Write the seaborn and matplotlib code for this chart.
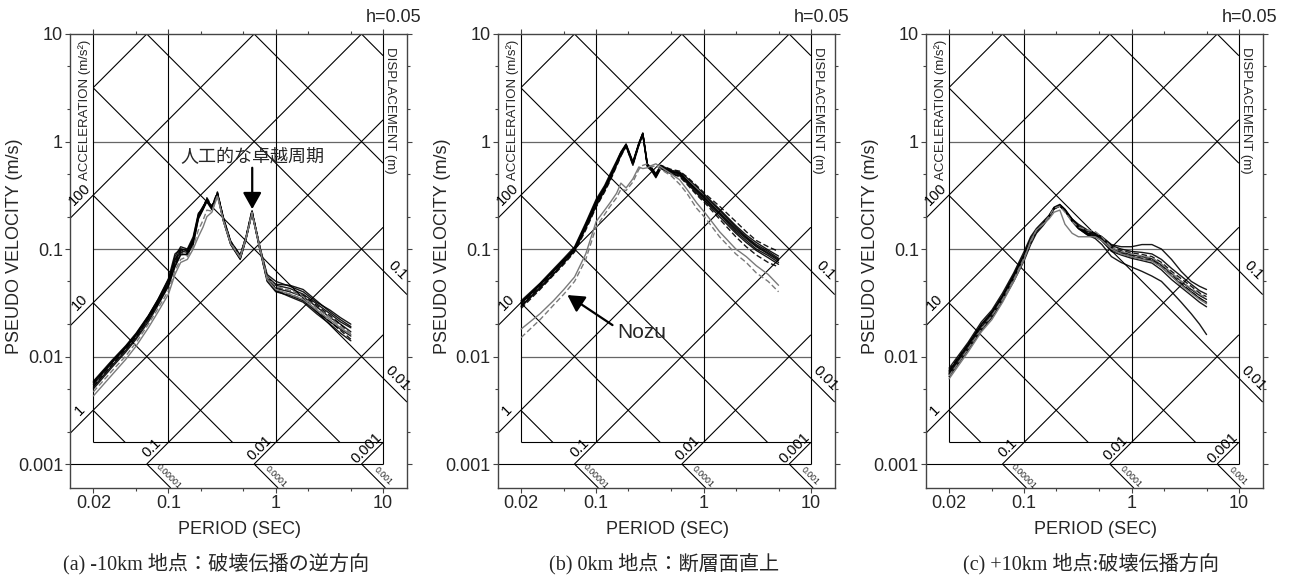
import numpy as np
import pandas as pd
import matplotlib
matplotlib.use("Agg")
import matplotlib.pyplot as plt
import seaborn as sns
from matplotlib.ticker import FixedLocator, NullFormatter, FixedFormatter

sns.set_theme(style="white")
plt.rcParams["font.family"] = ["Liberation Sans", "Noto Sans CJK JP"]
plt.rcParams["axes.unicode_minus"] = False

# ---------------- data ----------------
# Panel (a): -10 km
Ta = [0.02, 0.03, 0.04, 0.05, 0.065, 0.08, 0.1, 0.115, 0.13, 0.15, 0.17, 0.19, 0.21, 0.228, 0.254,
      0.286, 0.326, 0.38, 0.466, 0.53, 0.6, 0.716, 0.83, 1.0, 1.35, 1.8, 2.4, 3.2, 4.0, 5.0]
a_s1 = [0.0055, 0.0088, 0.012, 0.0158, 0.023, 0.032, 0.048, 0.075, 0.096, 0.093, 0.118, 0.205, 0.245, 0.29, 0.245,
        0.335, 0.19, 0.115, 0.085, 0.13, 0.222, 0.098, 0.053, 0.043, 0.040, 0.036, 0.029, 0.023, 0.020, 0.017]
a_s2 = [0.0059, 0.0093, 0.0126, 0.0165, 0.024, 0.034, 0.052, 0.08, 0.1, 0.098, 0.125, 0.21, 0.25, 0.28, 0.24,
        0.33, 0.185, 0.112, 0.082, 0.128, 0.218, 0.1, 0.056, 0.046, 0.043, 0.038, 0.031, 0.025, 0.021, 0.0185]
a_s3 = [0.0052, 0.0083, 0.0114, 0.015, 0.022, 0.031, 0.046, 0.07, 0.09, 0.088, 0.112, 0.195, 0.235, 0.275, 0.232,
        0.32, 0.18, 0.11, 0.08, 0.125, 0.215, 0.095, 0.05, 0.04, 0.037, 0.033, 0.026, 0.021, 0.018, 0.0155]
a_s4 = [0.0057, 0.009, 0.0122, 0.016, 0.0235, 0.033, 0.05, 0.085, 0.105, 0.1, 0.13, 0.215, 0.24, 0.285, 0.25,
        0.325, 0.195, 0.118, 0.088, 0.132, 0.225, 0.102, 0.058, 0.05, 0.045, 0.04, 0.032, 0.027, 0.023, 0.02]
a_s5 = [0.0058, 0.0091, 0.0124, 0.0162, 0.0238, 0.034, 0.053, 0.09, 0.1, 0.096, 0.122, 0.2, 0.242, 0.292, 0.243,
        0.33, 0.188, 0.116, 0.086, 0.131, 0.224, 0.099, 0.055, 0.047, 0.046, 0.042, 0.033, 0.026, 0.022, 0.019]
a_s6 = [0.005, 0.008, 0.011, 0.0145, 0.021, 0.03, 0.045, 0.068, 0.088, 0.09, 0.11, 0.19, 0.232, 0.282, 0.236,
        0.322, 0.182, 0.111, 0.081, 0.126, 0.216, 0.097, 0.052, 0.041, 0.036, 0.032, 0.025, 0.02, 0.0165, 0.014]
a_d1 = [0.0056, 0.0089, 0.0121, 0.016, 0.0232, 0.032, 0.049, 0.078, 0.098, 0.095, 0.12, 0.2, 0.24, 0.3, 0.25,
        0.34, 0.19, 0.118, 0.087, 0.133, 0.23, 0.1, 0.054, 0.044, 0.041, 0.037, 0.03, 0.024, 0.02, 0.016]
a_d2 = [0.0053, 0.0085, 0.0117, 0.0153, 0.0225, 0.031, 0.047, 0.072, 0.093, 0.09, 0.115, 0.198, 0.238, 0.278, 0.238,
        0.325, 0.183, 0.113, 0.083, 0.127, 0.22, 0.096, 0.051, 0.041, 0.038, 0.034, 0.027, 0.021, 0.0175, 0.0145]
a_g1 = [0.0043, 0.0068, 0.0094, 0.0125, 0.0185, 0.026, 0.038, 0.058, 0.075, 0.08, 0.1, 0.13, 0.16, 0.2, 0.22,
        0.31, 0.18, 0.112, 0.083, 0.128, 0.215, 0.097, 0.052, 0.042, 0.038, 0.034, 0.027, 0.022, 0.0185, 0.016]
a_g2 = [0.0047, 0.0074, 0.0101, 0.0135, 0.02, 0.028, 0.041, 0.063, 0.08, 0.085, 0.105, 0.15, 0.185, 0.23, 0.225,
        0.315, 0.183, 0.114, 0.084, 0.13, 0.22, 0.1, 0.055, 0.045, 0.041, 0.036, 0.028, 0.023, 0.019, 0.0165]

# Panel (b): 0 km
Tb = [0.02, 0.03, 0.04, 0.05, 0.063, 0.08, 0.1, 0.12, 0.135, 0.155, 0.17, 0.19, 0.22, 0.25, 0.272,
      0.3, 0.33, 0.36, 0.4, 0.5, 0.6, 0.7, 0.86, 1.06, 1.41, 2.0, 2.5, 3.1, 4.0, 5.0]
b_s1 = [0.031, 0.046, 0.062, 0.078, 0.1, 0.165, 0.27, 0.37, 0.47, 0.63, 0.78, 0.93, 0.63, 0.95, 1.19,
        0.6, 0.55, 0.48, 0.58, 0.52, 0.5, 0.43, 0.35, 0.285, 0.215, 0.15, 0.125, 0.105, 0.09, 0.078]
b_s2 = [0.033, 0.048, 0.065, 0.082, 0.105, 0.175, 0.29, 0.39, 0.5, 0.66, 0.8, 0.95, 0.65, 0.97, 1.2,
        0.62, 0.56, 0.5, 0.6, 0.54, 0.52, 0.46, 0.38, 0.31, 0.235, 0.165, 0.135, 0.115, 0.098, 0.086]
b_s3 = [0.029, 0.043, 0.058, 0.074, 0.096, 0.155, 0.25, 0.35, 0.44, 0.6, 0.74, 0.9, 0.6, 0.92, 1.15,
        0.58, 0.53, 0.46, 0.56, 0.5, 0.48, 0.41, 0.33, 0.27, 0.2, 0.14, 0.115, 0.097, 0.083, 0.072]
b_s4 = [0.032, 0.047, 0.063, 0.08, 0.102, 0.17, 0.28, 0.38, 0.48, 0.64, 0.79, 0.92, 0.64, 0.94, 1.17,
        0.61, 0.57, 0.5, 0.59, 0.53, 0.51, 0.44, 0.36, 0.3, 0.23, 0.16, 0.13, 0.11, 0.095, 0.082]
b_s5 = [0.0315, 0.0465, 0.0625, 0.079, 0.101, 0.168, 0.275, 0.375, 0.475, 0.635, 0.785, 0.935, 0.635, 0.955, 1.19,
        0.61, 0.55, 0.48, 0.585, 0.525, 0.505, 0.435, 0.355, 0.29, 0.22, 0.155, 0.128, 0.107, 0.092, 0.08]
b_s6 = [0.0295, 0.044, 0.059, 0.075, 0.098, 0.16, 0.26, 0.36, 0.46, 0.62, 0.77, 0.91, 0.62, 0.94, 1.17,
        0.6, 0.54, 0.47, 0.57, 0.51, 0.49, 0.42, 0.34, 0.275, 0.21, 0.145, 0.12, 0.1, 0.087, 0.075]
b_d1 = [0.03, 0.045, 0.061, 0.077, 0.1, 0.16, 0.26, 0.36, 0.46, 0.62, 0.76, 0.94, 0.62, 0.96, 1.18,
        0.6, 0.56, 0.49, 0.6, 0.55, 0.53, 0.47, 0.39, 0.32, 0.25, 0.18, 0.145, 0.12, 0.105, 0.095]
b_d2 = [0.028, 0.042, 0.057, 0.072, 0.094, 0.15, 0.245, 0.34, 0.43, 0.59, 0.73, 0.9, 0.61, 0.93, 1.16,
        0.59, 0.54, 0.47, 0.57, 0.5, 0.47, 0.4, 0.32, 0.26, 0.19, 0.13, 0.105, 0.088, 0.075, 0.068]
b_g1 = [0.018, 0.025, 0.033, 0.042, 0.055, 0.09, 0.18, 0.23, 0.27, 0.33, 0.41, 0.37, 0.45, 0.58, 0.56,
        0.57, 0.6, 0.62, 0.58, 0.5, 0.44, 0.36, 0.27, 0.21, 0.145, 0.1, 0.085, 0.07, 0.058, 0.046]
b_g2 = [0.015, 0.022, 0.03, 0.038, 0.05, 0.08, 0.16, 0.21, 0.25, 0.3, 0.36, 0.35, 0.42, 0.55, 0.6,
        0.62, 0.58, 0.6, 0.55, 0.48, 0.4, 0.33, 0.24, 0.19, 0.13, 0.09, 0.075, 0.06, 0.05, 0.04]

# Panel (c): +10 km
Tc = [0.02, 0.03, 0.04, 0.05, 0.063, 0.08, 0.1, 0.115, 0.13, 0.15, 0.17, 0.19, 0.215, 0.24, 0.28,
      0.32, 0.39, 0.46, 0.53, 0.65, 0.8, 1.0, 1.25, 1.55, 1.9, 2.36, 2.9, 3.6, 4.3, 5.0]
c_s1 = [0.007, 0.0125, 0.019, 0.025, 0.036, 0.055, 0.085, 0.12, 0.15, 0.173, 0.2, 0.24, 0.256, 0.23, 0.186,
        0.16, 0.14, 0.135, 0.126, 0.101, 0.094, 0.088, 0.085, 0.081, 0.071, 0.059, 0.05, 0.042, 0.037, 0.034]
c_s2 = [0.0078, 0.0135, 0.021, 0.027, 0.039, 0.06, 0.095, 0.13, 0.155, 0.18, 0.205, 0.245, 0.26, 0.235, 0.19,
        0.165, 0.145, 0.14, 0.13, 0.108, 0.1, 0.095, 0.093, 0.09, 0.08, 0.066, 0.056, 0.047, 0.041, 0.038]
c_s3 = [0.0065, 0.0115, 0.0175, 0.023, 0.033, 0.05, 0.078, 0.11, 0.14, 0.165, 0.195, 0.235, 0.25, 0.225, 0.18,
        0.155, 0.135, 0.13, 0.12, 0.095, 0.088, 0.082, 0.078, 0.074, 0.064, 0.052, 0.044, 0.037, 0.032, 0.029]
c_s4 = [0.0072, 0.013, 0.02, 0.026, 0.037, 0.058, 0.09, 0.125, 0.15, 0.17, 0.2, 0.24, 0.255, 0.23, 0.19,
        0.17, 0.15, 0.14, 0.13, 0.11, 0.105, 0.105, 0.11, 0.11, 0.1, 0.08, 0.062, 0.05, 0.045, 0.042]
c_s5 = [0.0068, 0.012, 0.018, 0.024, 0.035, 0.053, 0.082, 0.115, 0.145, 0.17, 0.2, 0.238, 0.252, 0.228, 0.182,
        0.155, 0.135, 0.125, 0.11, 0.085, 0.075, 0.068, 0.062, 0.056, 0.05, 0.04, 0.032, 0.025, 0.02, 0.016]
c_s6 = [0.0074, 0.0128, 0.0198, 0.0255, 0.0365, 0.056, 0.087, 0.118, 0.148, 0.171, 0.198, 0.238, 0.253, 0.228, 0.184,
        0.158, 0.138, 0.132, 0.123, 0.098, 0.091, 0.085, 0.081, 0.078, 0.068, 0.056, 0.047, 0.04, 0.035, 0.032]
c_d1 = [0.0075, 0.013, 0.0195, 0.026, 0.037, 0.057, 0.088, 0.122, 0.148, 0.175, 0.202, 0.242, 0.258, 0.232, 0.188,
        0.162, 0.142, 0.137, 0.128, 0.104, 0.097, 0.092, 0.089, 0.085, 0.075, 0.062, 0.053, 0.045, 0.039, 0.036]
c_d2 = [0.0069, 0.0121, 0.0185, 0.0245, 0.0345, 0.054, 0.084, 0.118, 0.152, 0.172, 0.2, 0.24, 0.255, 0.23, 0.186,
        0.16, 0.14, 0.134, 0.124, 0.1, 0.092, 0.086, 0.082, 0.079, 0.069, 0.057, 0.048, 0.04, 0.035, 0.031]
c_g1 = [0.0062, 0.011, 0.017, 0.022, 0.032, 0.05, 0.08, 0.12, 0.15, 0.17, 0.19, 0.22, 0.23, 0.17, 0.14,
        0.13, 0.13, 0.13, 0.12, 0.1, 0.09, 0.085, 0.08, 0.077, 0.068, 0.056, 0.046, 0.039, 0.034, 0.031]
c_g2 = [0.0066, 0.0118, 0.018, 0.024, 0.034, 0.052, 0.083, 0.115, 0.15, 0.17, 0.2, 0.24, 0.25, 0.22, 0.18,
        0.16, 0.15, 0.145, 0.13, 0.103, 0.095, 0.09, 0.086, 0.083, 0.073, 0.06, 0.05, 0.043, 0.038, 0.035]

# series style keys: k = black solid, kd = black dashed, g = gray solid, gd = gray dashed
panels = [
    (Ta, [(a_s1, "k"), (a_s2, "k"), (a_s3, "k"), (a_s4, "k"), (a_s5, "k"), (a_s6, "k"),
          (a_d1, "kd"), (a_d2, "kd"), (a_g1, "g"), (a_g2, "gd")]),
    (Tb, [(b_s1, "k"), (b_s2, "k"), (b_s3, "k"), (b_s4, "k"), (b_s5, "k"), (b_s6, "k"),
          (b_d1, "kd"), (b_d2, "kd"), (b_g1, "g"), (b_g2, "gd")]),
    (Tc, [(c_s1, "k"), (c_s2, "k"), (c_s3, "k"), (c_s4, "k"), (c_s5, "k"), (c_s6, "k"),
          (c_d1, "kd"), (c_d2, "kd"), (c_g1, "g"), (c_g2, "gd")]),
]
captions = ["(a) -10km 地点：破壊伝播の逆方向", "(b) 0km 地点：断層面直上", "(c) +10km 地点:破壊伝播方向"]

x_major = [0.02, 0.1, 1, 10]
x_major_labels = ["0.02", "0.1", "1", "10"]
x_minor = [0.05, 0.2, 0.5, 2, 5]
y_major = [0.001, 0.01, 0.1, 1, 10]
y_major_labels = ["0.001", "0.01", "0.1", "1", "10"]
y_minor = [0.002, 0.005, 0.02, 0.05, 0.2, 0.5, 2, 5]

accel_levels = [1e-3, 1e-2, 1e-1, 1, 10, 100, 1000]
disp_levels = [1e-5, 1e-4, 1e-3, 1e-2, 1e-1, 1, 10]
accel_left_labels = [(100, "100"), (10, "10"), (1, "1")]
accel_bottom_labels = [(0.1, "0.1"), (0.01, "0.01"), (0.001, "0.001")]
disp_right_labels = [(0.1, "0.1"), (0.01, "0.01")]
disp_bottom_labels = [(1e-5, "0.00001"), (1e-4, "0.0001"), (1e-3, "0.001")]

# ---------------- geometry ----------------
W, H = 1293, 578
fig = plt.figure(figsize=(W / 100, H / 100), dpi=100)

T_MIN, T_MAX = 0.02, 10.0
V_TOP, V_BASE = 10.0, 0.001
TWO_PI = 2 * np.pi
V_INNER = 0.001 * T_MAX / TWO_PI
XLIM = (10 ** (np.log10(T_MIN) - 0.218), 10 ** (1 + 0.222))
YLIM = (10 ** (-3.223), 10.0)

GRID = dict(color="black", lw=0.8, solid_capstyle="butt", zorder=1)
HGRID = dict(color="#666666", lw=0.9, zorder=1)


def accel_seg(a, tlo, thi, vlo, vhi):
    c = np.log10(a / TWO_PI)
    x0 = max(np.log10(tlo), np.log10(vlo) - c)
    x1 = min(np.log10(thi), np.log10(vhi) - c)
    if x1 <= x0:
        return None
    xs = np.array([x0, x1])
    return 10 ** xs, 10 ** (xs + c)


def disp_seg(d, tlo, thi, vlo, vhi):
    c = np.log10(TWO_PI * d)
    x0 = max(np.log10(tlo), c - np.log10(vhi))
    x1 = min(np.log10(thi), c - np.log10(vlo))
    if x1 <= x0:
        return None
    xs = np.array([x0, x1])
    return 10 ** xs, 10 ** (c - xs)


px_left = [70.0, 497.7, 925.7]
ax_w = 337.0
ax_top, ax_bot = 34.0, 488.0

styles = {
    "k": dict(color="black", lw=1.0, ls="-", alpha=0.9),
    "kd": dict(color="black", lw=1.0, ls=(0, (4, 2)), alpha=0.9),
    "g": dict(color="#7a7a7a", lw=1.0, ls="-", alpha=1.0),
    "gd": dict(color="#7a7a7a", lw=1.0, ls=(0, (4, 2)), alpha=1.0),
}

for i, (T, series) in enumerate(panels):
    L = px_left[i]
    ax = fig.add_axes([L / W, 1 - ax_bot / H, ax_w / W, (ax_bot - ax_top) / H])
    ax.set_xscale("log")
    ax.set_yscale("log")
    ax.set_xlim(*XLIM)
    ax.set_ylim(*YLIM)

    # --- tripartite grid ---
    for v in [1, 0.1, 0.01]:
        ax.plot([T_MIN, T_MAX], [v, v], **HGRID)
    ax.plot([XLIM[0], T_MAX], [V_BASE, V_BASE], **GRID)
    ax.plot([T_MIN, T_MAX], [V_INNER, V_INNER], **GRID)
    for t in [T_MIN, 0.1, 1]:
        ax.plot([t, t], [V_INNER, V_TOP], **GRID)
    ax.plot([T_MAX, T_MAX], [V_BASE, V_TOP], **GRID)

    for a in accel_levels:
        s = accel_seg(a, T_MIN, T_MAX, V_BASE, V_TOP)
        if s is not None:
            ax.plot(*s, **GRID)
    for a, _ in accel_left_labels:
        s = accel_seg(a, XLIM[0], T_MIN, YLIM[0], V_TOP)
        if s is not None:
            ax.plot(*s, **GRID)
    for d in disp_levels:
        s = disp_seg(d, T_MIN, T_MAX, V_INNER, V_TOP)
        if s is not None:
            ax.plot(*s, **GRID)
    for d, _ in disp_right_labels:
        s = disp_seg(d, T_MAX, XLIM[1], YLIM[0], V_TOP)
        if s is not None:
            ax.plot(*s, **GRID)
    for d, _ in disp_bottom_labels:
        s = disp_seg(d, XLIM[0], XLIM[1], YLIM[0], V_BASE)
        if s is not None:
            ax.plot(*s, **GRID)

    # --- scale labels ---
    lab = dict(fontsize=10.5, ha="center", va="center", rotation_mode="anchor", color="black")
    for a, txt in accel_left_labels:
        t = 10 ** ((np.log10(XLIM[0]) + np.log10(T_MIN)) / 2 - 0.02)
        v = a * t / TWO_PI * 10 ** 0.13
        ax.text(t, v, txt, rotation=45, **lab)
    for a, txt in accel_bottom_labels:
        t0 = TWO_PI * V_BASE / a
        ax.text(t0 * 10 ** 0.05, V_BASE * 10 ** 0.15, txt, rotation=45, **lab)
    for d, txt in disp_right_labels:
        t = 10 ** ((np.log10(XLIM[1]) + 1) / 2 + 0.02)
        v = TWO_PI * d / t * 10 ** 0.13
        ax.text(t, v, txt, rotation=-45, **lab)
    for d, txt in disp_bottom_labels:
        t0 = TWO_PI * d / V_BASE
        ax.text(t0 * 10 ** 0.2, V_BASE * 10 ** -0.115, txt, rotation=-45,
                fontsize=6.3, ha="center", va="center", rotation_mode="anchor")
    ax.text(10 ** ((np.log10(XLIM[0]) + np.log10(T_MIN)) / 2 + 0.03), 10 ** 0.29,
            "ACCELERATION (m/s²)", rotation=90, fontsize=9.5, ha="center", va="center")
    ax.text(10 ** (1.066), 10 ** 0.29, "DISPLACEMENT (m)", rotation=-90,
            fontsize=9.5, ha="center", va="center")

    # --- spectra ---
    for vals, key in series:
        st = styles[key]
        sns.lineplot(x=T, y=vals, ax=ax, color=st["color"], linewidth=st["lw"],
                     linestyle=st["ls"], alpha=st["alpha"], zorder=3, estimator=None, sort=False)

    # --- axes styling ---
    for sp in ax.spines.values():
        sp.set_color("#444444")
        sp.set_linewidth(1.0)
    ax.xaxis.set_major_locator(FixedLocator(x_major))
    ax.xaxis.set_major_formatter(FixedFormatter(x_major_labels))
    ax.xaxis.set_minor_locator(FixedLocator(x_minor))
    ax.xaxis.set_minor_formatter(NullFormatter())
    ax.yaxis.set_major_locator(FixedLocator(y_major))
    ax.yaxis.set_major_formatter(FixedFormatter(y_major_labels))
    ax.yaxis.set_minor_locator(FixedLocator(y_minor))
    ax.yaxis.set_minor_formatter(NullFormatter())
    ax.tick_params(which="both", direction="out", top=True, right=True, bottom=True, left=True,
                   color="#444444", width=0.8)
    ax.tick_params(which="major", length=3.5, labelsize=13, pad=1.5)
    ax.tick_params(which="minor", length=2.5)
    ax.set_xlabel("")
    ax.set_ylabel("")
    ax.grid(False)
    ax.set_facecolor("white")

    off = L - 70.0
    fig.text((15 + off) / W, 1 - 246 / H, "PSEUDO VELOCITY (m/s)", rotation=90,
             fontsize=13, ha="center", va="center")
    fig.text((239.5 + off) / W, 1 - 530 / H, "PERIOD (SEC)", fontsize=13, ha="center", va="center")
    fig.text((421.7 + off) / W, 1 - 18 / H, "h=0.05", fontsize=13, ha="right", va="center")

    if i == 0:
        ax.annotate("", xy=(0.603, 0.235), xytext=(0.603, 0.57),
                    arrowprops=dict(arrowstyle="-|>,head_length=0.5,head_width=0.28",
                                    mutation_scale=20, color="black", lw=1.6, shrinkA=0, shrinkB=0),
                    zorder=5)
        ax.text(0.61, 0.72, "人工的な卓越周期", fontsize=13, ha="center", va="center",
                family=["Noto Sans CJK JP"], zorder=5)
    if i == 1:
        ax.annotate("", xy=(0.054, 0.0373), xytext=(0.142, 0.0196),
                    arrowprops=dict(arrowstyle="-|>,head_length=0.5,head_width=0.28",
                                    mutation_scale=20, color="black", lw=1.6, shrinkA=0, shrinkB=0),
                    zorder=5)
        ax.text(0.158, 0.0169, "Nozu", fontsize=15, ha="left", va="center", zorder=5)

cap_x = [216, 664, 1091]
for cx, txt in zip(cap_x, captions):
    fig.text(cx / W, 1 - 564 / H, txt, fontsize=14.5, ha="center", va="center",
             family=["Liberation Serif", "Noto Sans CJK JP"])

fig.savefig("out.png", dpi=100, facecolor="white")
